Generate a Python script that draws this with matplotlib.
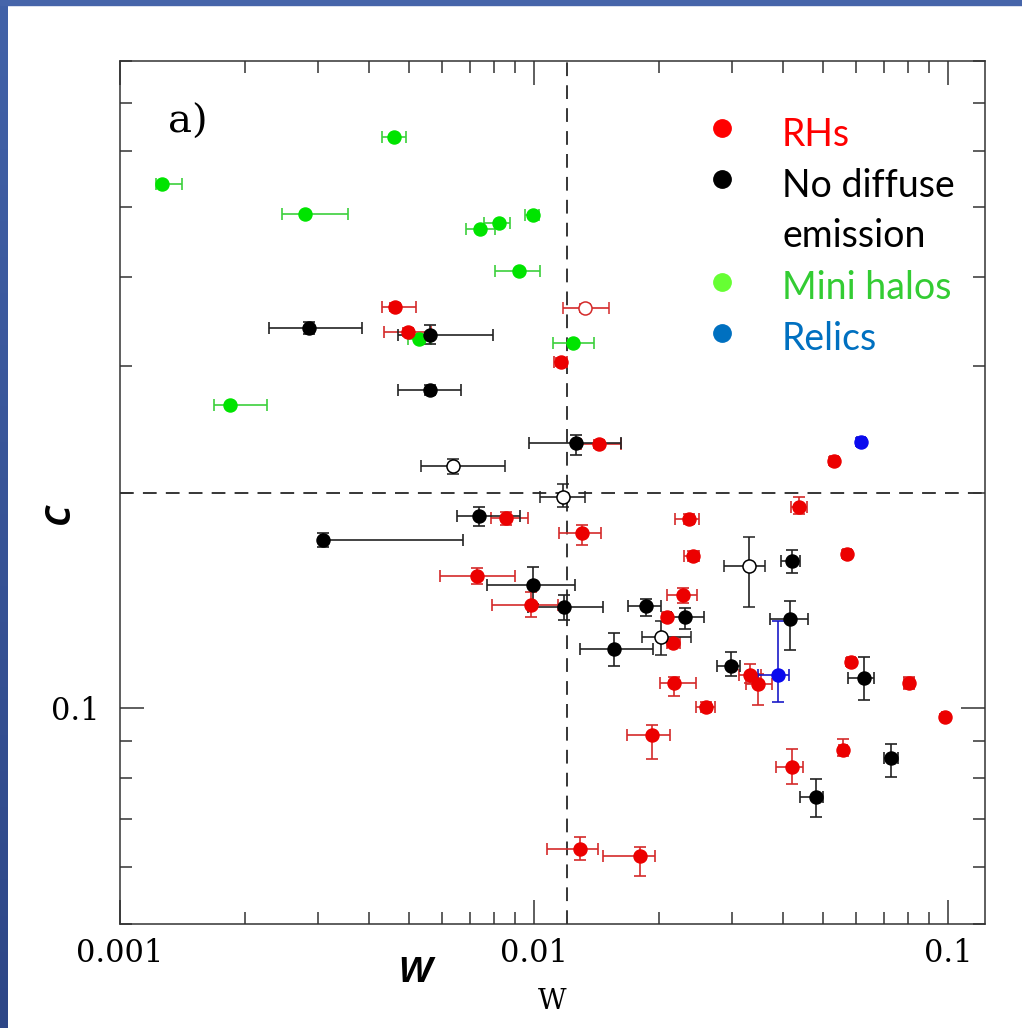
import numpy as np
import matplotlib
matplotlib.use("Agg")
import matplotlib.pyplot as plt
from matplotlib import ticker
from matplotlib.lines import Line2D
from matplotlib.patches import Rectangle

# --- data (w, c with error bar ends) ---
# radio halos (filled red)
rh_w    = [0.00462, 0.00495, 0.01160, 0.01438, 0.00856, 0.01308, 0.00728, 0.00983, 0.0436, 0.0237,
           0.0242, 0.0570, 0.0229, 0.0210, 0.0217, 0.0218, 0.0260, 0.0193, 0.0333, 0.0348,
           0.0584, 0.0804, 0.0982, 0.0420, 0.0559, 0.0129, 0.0180, 0.0530]
rh_w_lo = [0.00429, 0.00434, 0.01118, 0.01299, 0.00787, 0.01151, 0.00593, 0.00792, 0.0418, 0.0219,
           0.0230, 0.0558, 0.0210, 0.0205, 0.0210, 0.0202, 0.0246, 0.0168, 0.0313, 0.0325,
           0.0571, 0.0782, 0.0965, 0.0384, 0.0546, 0.01075, 0.01465, 0.0519]
rh_w_hi = [0.00519, 0.00564, 0.01201, 0.01623, 0.00966, 0.01451, 0.00900, 0.01141, 0.0456, 0.0250,
           0.0250, 0.0583, 0.0248, 0.0214, 0.0225, 0.0246, 0.0273, 0.0213, 0.0353, 0.0375,
           0.0597, 0.0826, 0.0999, 0.0447, 0.0571, 0.01425, 0.0196, 0.0542]
rh_c    = [0.363, 0.335, 0.304, 0.234, 0.184, 0.1756, 0.1531, 0.1394, 0.1907, 0.1837,
           0.1629, 0.1643, 0.1441, 0.1339, 0.1235, 0.1083, 0.1004, 0.0918, 0.1111, 0.1081,
           0.1160, 0.1086, 0.0972, 0.0828, 0.0875, 0.0637, 0.0622, 0.2211]
rh_c_lo = [0.358, 0.331, 0.300, 0.231, 0.180, 0.1688, 0.1489, 0.1339, 0.1865, 0.1807,
           0.1603, 0.1623, 0.1402, 0.1322, 0.1219, 0.1039, 0.0988, 0.0850, 0.1085, 0.1010,
           0.1146, 0.1065, 0.0962, 0.0784, 0.0857, 0.0614, 0.0584, 0.2183]
rh_c_hi = [0.368, 0.339, 0.308, 0.237, 0.188, 0.1804, 0.1569, 0.1454, 0.1969, 0.1866,
           0.1656, 0.1665, 0.1470, 0.1357, 0.1251, 0.1106, 0.1020, 0.0949, 0.1153, 0.1115,
           0.1175, 0.1107, 0.0982, 0.0877, 0.0905, 0.0661, 0.0640, 0.2239]

# radio halo, open symbol
rho_w, rho_w_lo, rho_w_hi = [0.0133], [0.01175], [0.01518]
rho_c, rho_c_lo, rho_c_hi = [0.3617], [0.357], [0.3665]

# no diffuse emission (filled black)
nd_w    = [0.00286, 0.00562, 0.00560, 0.01263, 0.00736, 0.00310, 0.00997, 0.01179, 0.01865,
           0.01558, 0.02316, 0.02991, 0.04207, 0.04153, 0.06258, 0.07284, 0.04799]
nd_w_lo = [0.00229, 0.00469, 0.00469, 0.00975, 0.00652, 0.00305, 0.00769, 0.00967, 0.01684,
           0.01291, 0.02143, 0.02767, 0.03950, 0.03709, 0.05744, 0.07005, 0.04398]
nd_w_hi = [0.00384, 0.00798, 0.00666, 0.01623, 0.00927, 0.00673, 0.01259, 0.01465, 0.02027,
           0.01942, 0.02570, 0.03145, 0.04398, 0.04598, 0.06637, 0.07561, 0.04997]
nd_c    = [0.3388, 0.3313, 0.2777, 0.2344, 0.1854, 0.1717, 0.1484, 0.1384, 0.1390,
           0.1209, 0.1339, 0.1144, 0.1603, 0.1331, 0.1102, 0.0851, 0.0752]
nd_c_lo = [0.3323, 0.3222, 0.2733, 0.2259, 0.1798, 0.1677, 0.1396, 0.1327, 0.1344,
           0.1144, 0.1288, 0.1108, 0.1543, 0.1207, 0.1026, 0.0801, 0.0705]
nd_c_hi = [0.3454, 0.3421, 0.2822, 0.2408, 0.1909, 0.1754, 0.1574, 0.1441, 0.1419,
           0.1274, 0.1380, 0.1197, 0.1661, 0.1413, 0.1178, 0.0892, 0.0797]

# no diffuse emission, open symbols
ndo_w    = [0.00636, 0.01178, 0.02027, 0.03311]
ndo_w_lo = [0.00534, 0.01036, 0.01824, 0.02882]
ndo_w_hi = [0.00849, 0.01324, 0.02394, 0.03620]
ndo_c    = [0.2176, 0.1972, 0.1257, 0.1578]
ndo_c_lo = [0.2125, 0.1907, 0.1188, 0.1383]
ndo_c_hi = [0.2230, 0.2053, 0.1322, 0.1732]

# mini halos (green)
mh_w    = [0.00459, 0.00126, 0.00280, 0.00741, 0.00822, 0.00993, 0.00920, 0.01240, 0.00528, 0.00184]
mh_w_lo = [0.00429, 0.00122, 0.00246, 0.00685, 0.00757, 0.00951, 0.00805, 0.01110, 0.00496, 0.00169]
mh_w_hi = [0.00491, 0.00141, 0.00355, 0.00805, 0.00875, 0.01028, 0.01034, 0.01399, 0.00564, 0.00227]
mh_c    = [0.626, 0.538, 0.490, 0.466, 0.475, 0.487, 0.407, 0.3236, 0.328, 0.265]
mh_c_lo = [0.626, 0.538, 0.490, 0.466, 0.475, 0.487, 0.407, 0.3206, 0.328, 0.265]
mh_c_hi = [0.626, 0.538, 0.490, 0.466, 0.475, 0.487, 0.407, 0.3266, 0.328, 0.265]

# relics (blue)
rel_w, rel_w_lo, rel_w_hi = [0.0617, 0.0388], [0.0603, 0.0347], [0.0630, 0.0412]
rel_c, rel_c_lo, rel_c_hi = [0.2352, 0.1112], [0.2322, 0.1020], [0.2382, 0.1325]

w_cut = 0.012
c_cut = 0.2

legend_labels = ["RHs", "No diffuse\nemission", "Mini halos", "Relics"]
legend_dot_colors = ["#ff0000", "#000000", "#66ff33", "#0070c0"]
legend_txt_colors = ["#ff0000", "#000000", "#33cc33", "#0070c0"]


def errs(v, lo, hi):
    v = np.array(v)
    return np.vstack([v - np.array(lo), np.array(hi) - v])


W, H = 1022, 1028
fig = plt.figure(figsize=(W / 100, H / 100), dpi=100)

# slide frame (blue border strips)
grad = np.linspace(0, 1, 256).reshape(-1, 1)
bax = fig.add_axes([0, 0, 8 / W, 1])
bax.imshow(grad, aspect="auto", cmap=matplotlib.colors.LinearSegmentedColormap.from_list(
    "b", ["#4262a8", "#2d4687"]))
bax.axis("off")
fig.patches.append(Rectangle((0, 1 - 5 / H), 1, 5 / H, transform=fig.transFigure,
                             color="#4665aa", zorder=0))

ax = fig.add_axes([120 / W, 1 - 924 / H, 865 / W, 863 / H])
ax.set_xscale("log")
ax.set_yscale("log")

ax.axvline(w_cut, color="black", lw=1.1, dashes=(9, 6), zorder=1)
ax.axhline(c_cut, color="black", lw=1.1, dashes=(9, 6), zorder=1)

ebkw = dict(fmt="o", ms=9.4, capsize=4.3, elinewidth=1.2, capthick=1.2, zorder=3)

ax.errorbar(mh_w, mh_c, xerr=errs(mh_w, mh_w_lo, mh_w_hi), yerr=errs(mh_c, mh_c_lo, mh_c_hi),
            color="#00e400", ecolor="#3ccf3c", **ebkw)
ax.errorbar(rh_w, rh_c, xerr=errs(rh_w, rh_w_lo, rh_w_hi), yerr=errs(rh_c, rh_c_lo, rh_c_hi),
            color="#ec0000", ecolor="#d42a2a", **ebkw)
ax.errorbar(rho_w, rho_c, xerr=errs(rho_w, rho_w_lo, rho_w_hi), yerr=errs(rho_c, rho_c_lo, rho_c_hi),
            color="#d42a2a", mfc="white", mec="#d42a2a", mew=1.1, **ebkw)
ax.errorbar(nd_w, nd_c, xerr=errs(nd_w, nd_w_lo, nd_w_hi), yerr=errs(nd_c, nd_c_lo, nd_c_hi),
            color="black", ecolor="#222222", **ebkw)
ax.errorbar(ndo_w, ndo_c, xerr=errs(ndo_w, ndo_w_lo, ndo_w_hi), yerr=errs(ndo_c, ndo_c_lo, ndo_c_hi),
            color="#222222", mfc="white", mec="black", mew=1.1, **ebkw)
ax.errorbar(rel_w, rel_c, xerr=errs(rel_w, rel_w_lo, rel_w_hi), yerr=errs(rel_c, rel_c_lo, rel_c_hi),
            color="#0a0aee", ecolor="#1a1ac8", **ebkw)

ax.set_xlim(0.001, 0.1228)
ax.set_ylim(0.05, 0.8)

serif = "DejaVu Serif"
ax.xaxis.set_major_formatter(ticker.FuncFormatter(lambda v, p: f"{v:g}"))
ax.yaxis.set_major_formatter(ticker.FuncFormatter(lambda v, p: f"{v:g}"))
ax.xaxis.set_minor_formatter(ticker.NullFormatter())
ax.yaxis.set_minor_formatter(ticker.NullFormatter())
ax.tick_params(which="both", direction="in", top=True, right=True, width=1.1, color="#333333")
ax.tick_params(which="major", length=17)
ax.tick_params(which="minor", length=8.5)
ax.tick_params(axis="x", labelsize=22, pad=10)
ax.tick_params(axis="y", labelsize=22, pad=15)
for lab in ax.get_xticklabels() + ax.get_yticklabels():
    lab.set_fontfamily(serif)
for s in ax.spines.values():
    s.set_linewidth(1.1)
    s.set_color("#333333")

ax.set_xlabel("W", fontfamily=serif, fontsize=20, labelpad=14)
fig.text(168 / W, 1 - 133 / H, "a)", fontfamily=serif, fontsize=29, va="baseline", ha="left")

# slide overlays
fig.text(416 / W, 1 - 970 / H, "w", fontfamily="Open Sans", fontstyle="italic",
         fontweight="semibold", fontsize=33, ha="center", va="center")
fig.text(57 / W, 1 - 513 / H, "c", fontfamily="Open Sans", fontstyle="italic",
         fontweight="semibold", fontsize=33, ha="center", va="center", rotation=90)

dot_y = [128, 179, 282, 333]
txt_y = [146, 197, 299, 350]
line_step = 50
for lab, dc, tc, dy, ty in zip(legend_labels, legend_dot_colors, legend_txt_colors, dot_y, txt_y):
    fig.add_artist(Line2D([722 / W], [1 - dy / H], marker="o", ms=12.5, color=dc,
                          transform=fig.transFigure, ls="none"))
    for k, part in enumerate(lab.split("\n")):
        fig.text(782 / W, 1 - (ty + k * line_step) / H, part, fontfamily="Lato", fontsize=27,
                 color=tc, va="baseline", ha="left")

fig.savefig("out.png", dpi=100)
